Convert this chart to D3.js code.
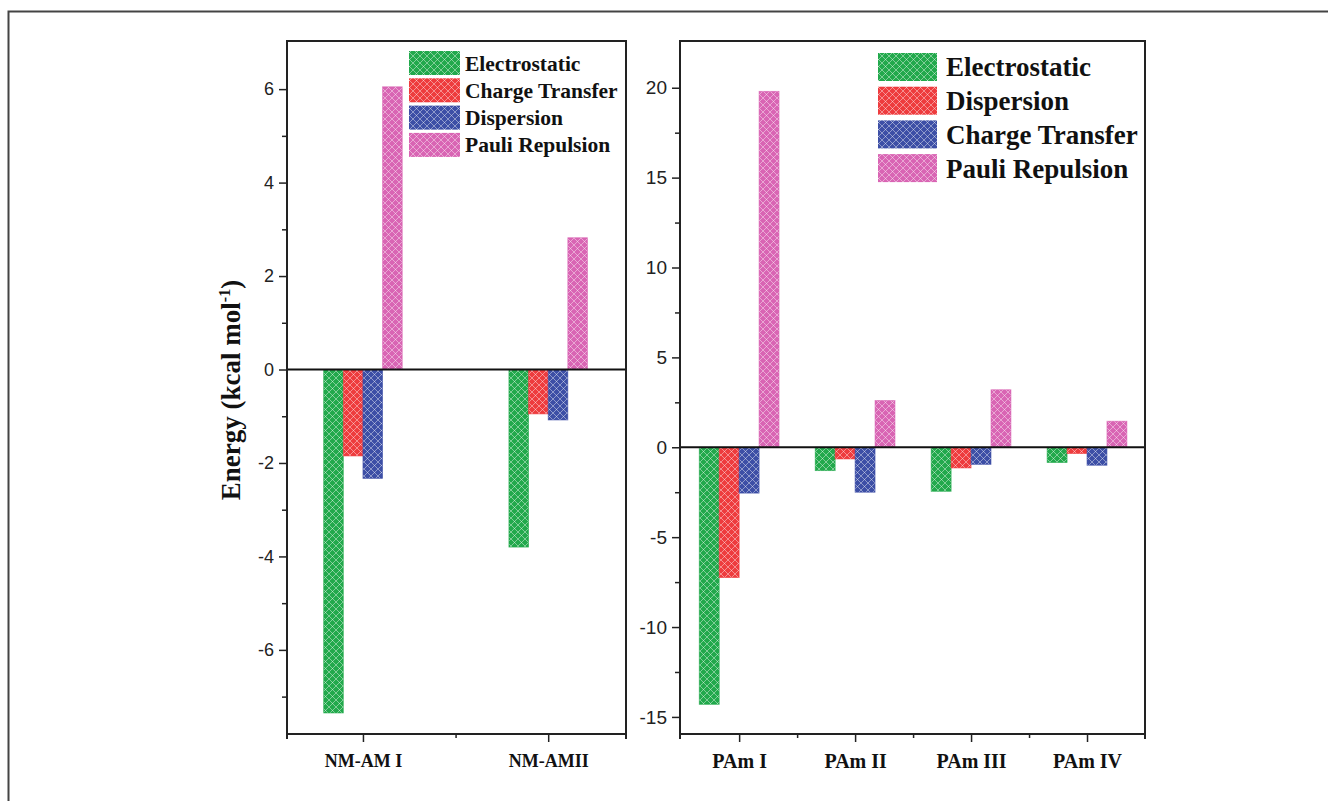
<!DOCTYPE html>
<html>
<head>
<meta charset="utf-8">
<script src="https://cdn.jsdelivr.net/npm/d3@7/dist/d3.min.js"></script>
<style>
  html, body { margin: 0; padding: 0; background: #fff; }
  svg { display: block; }
</style>
</head>
<body>
<svg id="chart" width="1328" height="801"></svg>
<script>
// Energy decomposition terms for the two complex families
const leftCategories = ["NM-AM I", "NM-AMII"];
const leftSeries = ["Electrostatic", "Charge Transfer", "Dispersion", "Pauli Repulsion"];
const leftElectrostatic = [-7.35, -3.80];
const leftChargeTransfer = [-1.85, -0.95];
const leftDispersion = [-2.33, -1.08];
const leftPauli = [6.05, 2.82];
const leftMajorTicks = [-6, -4, -2, 0, 2, 4, 6];
const leftMinorTicks = [-7, -5, -3, -1, 1, 3, 5];

const rightCategories = ["PAm I", "PAm II", "PAm III", "PAm IV"];
const rightSeries = ["Electrostatic", "Dispersion", "Charge Transfer", "Pauli Repulsion"];
const rightElectrostatic = [-14.3, -1.3, -2.45, -0.85];
const rightDispersion = [-7.25, -0.65, -1.15, -0.35];
const rightChargeTransfer = [-2.55, -2.5, -0.95, -1.0];
const rightPauli = [19.8, 2.6, 3.2, 1.45];
const rightMajorTicks = [-15, -10, -5, 0, 5, 10, 15, 20];
const rightMinorTicks = [-12.5, -7.5, -2.5, 2.5, 7.5, 12.5, 17.5];

const colors = ["#22a94c", "#ee3c3e", "#3d4fa6", "#d965b4"];

const svg = d3.select("#chart");

// hatched fills
const defs = svg.append("defs");
colors.forEach((c, i) => {
  const p = defs.append("pattern")
    .attr("id", "hatch" + i)
    .attr("patternUnits", "userSpaceOnUse")
    .attr("width", 7).attr("height", 7);
  p.append("rect").attr("width", 7).attr("height", 7).attr("fill", c);
  p.append("path")
    .attr("d", "M0,0 L7,7 M7,0 L0,7 M-1,6 L1,8 M6,-1 L8,1 M-1,1 L1,-1 M6,8 L8,6")
    .attr("stroke", "#ffffff").attr("stroke-opacity", 0.42).attr("stroke-width", 1);
});

// outer frame
svg.append("path")
  .attr("d", "M8.5,801 L8.5,11.5 L1328,11.5")
  .attr("fill", "none").attr("stroke", "#444").attr("stroke-width", 2);

const serif = "'Liberation Serif', 'Times New Roman', serif";
const sans = "'Liberation Sans', Arial, sans-serif";

function panel(cfg) {
  const g = svg.append("g");
  const x = d3.scaleLinear().domain(cfg.xDomain).range([cfg.x0, cfg.x1]);
  const y = d3.scaleLinear().domain(cfg.yDomain).range([cfg.y1, cfg.y0]);

  // bars
  cfg.values.forEach((vals, s) => {
    const off = (s - 1.5) * cfg.barW;
    g.selectAll(null).data(vals).enter().append("rect")
      .attr("x", (d, i) => x(i + 1 + off - cfg.barW / 2))
      .attr("width", x(cfg.barW) - x(0))
      .attr("y", d => y(Math.max(0, d)))
      .attr("height", d => Math.abs(y(d) - y(0)))
      .attr("fill", "url(#hatch" + s + ")")
      .attr("stroke", colors[s]).attr("stroke-opacity", 0.7).attr("stroke-width", 0.8);
  });

  // zero line
  g.append("line")
    .attr("x1", cfg.x0).attr("x2", cfg.x1)
    .attr("y1", y(0)).attr("y2", y(0))
    .attr("stroke", "#111").attr("stroke-width", 1.8);

  // y axis
  const yAxis = g.append("g").attr("transform", `translate(${cfg.x0},0)`)
    .call(d3.axisLeft(y).tickValues(cfg.major).tickSize(8).tickPadding(5)
      .tickFormat(d => String(d)));
  yAxis.select(".domain").remove();
  yAxis.selectAll("line").attr("stroke", "#222").attr("stroke-width", 1.5);
  yAxis.selectAll("text").attr("font-family", sans).attr("font-size", cfg.tickFont).attr("fill", "#222");

  const yMinor = g.append("g").attr("transform", `translate(${cfg.x0},0)`)
    .call(d3.axisLeft(y).tickValues(cfg.minor).tickSize(5).tickFormat(""));
  yMinor.select(".domain").remove();
  yMinor.selectAll("line").attr("stroke", "#222").attr("stroke-width", 1.5);

  // x axis
  const xAxis = g.append("g").attr("transform", `translate(0,${cfg.y1})`)
    .call(d3.axisBottom(x).tickValues(d3.range(1, cfg.categories.length + 1))
      .tickSize(8).tickPadding(12).tickFormat(d => cfg.categories[d - 1]));
  xAxis.select(".domain").remove();
  xAxis.selectAll("line").attr("stroke", "#222").attr("stroke-width", 1.5);
  xAxis.selectAll("text").attr("font-family", serif).attr("font-weight", "bold")
    .attr("font-size", cfg.catFont).attr("fill", "#111");

  const between = d3.range(1, cfg.categories.length).map(i => i + 0.5);
  const xMinor = g.append("g").attr("transform", `translate(0,${cfg.y1})`)
    .call(d3.axisBottom(x).tickValues(between).tickSize(4).tickFormat(""));
  xMinor.select(".domain").remove();
  xMinor.selectAll("line").attr("stroke", "#222").attr("stroke-width", 1.5);

  // frame
  g.append("rect")
    .attr("x", cfg.x0).attr("y", cfg.y0)
    .attr("width", cfg.x1 - cfg.x0).attr("height", cfg.y1 - cfg.y0)
    .attr("fill", "none").attr("stroke", "#222").attr("stroke-width", 2);
  [cfg.x0, cfg.x1].forEach(xx => {
    g.append("line").attr("x1", xx).attr("x2", xx)
      .attr("y1", cfg.y1).attr("y2", cfg.y1 + 5)
      .attr("stroke", "#222").attr("stroke-width", 2);
  });

  // legend
  const lg = g.append("g");
  cfg.series.forEach((name, s) => {
    const yy = cfg.legY + s * cfg.legStep;
    lg.append("rect")
      .attr("x", cfg.legX).attr("y", yy)
      .attr("width", cfg.legW).attr("height", cfg.legH)
      .attr("fill", "url(#hatch" + s + ")");
    lg.append("text")
      .attr("x", cfg.legX + cfg.legW + cfg.legGap).attr("y", yy + cfg.legH / 2)
      .attr("dy", "0.35em")
      .attr("font-family", serif).attr("font-weight", "bold")
      .attr("font-size", cfg.legFont).attr("fill", "#111")
      .text(name);
  });
}

panel({
  x0: 287, x1: 626, y0: 41, y1: 734,
  xDomain: [0.59, 2.42], yDomain: [-7.8, 7.03],
  barW: 0.106,
  categories: leftCategories, series: leftSeries,
  values: [leftElectrostatic, leftChargeTransfer, leftDispersion, leftPauli],
  major: leftMajorTicks, minor: leftMinorTicks,
  tickFont: 18, catFont: 18,
  legX: 409, legY: 51, legW: 51, legH: 24, legStep: 27.3, legGap: 5, legFont: 21.5
});

panel({
  x0: 680, x1: 1145, y0: 41, y1: 734,
  xDomain: [0.49, 4.5], yDomain: [-15.95, 22.6],
  barW: 0.172,
  categories: rightCategories, series: rightSeries,
  values: [rightElectrostatic, rightDispersion, rightChargeTransfer, rightPauli],
  major: rightMajorTicks, minor: rightMinorTicks,
  tickFont: 19, catFont: 20,
  legX: 878, legY: 53, legW: 59, legH: 28, legStep: 33.7, legGap: 9, legFont: 27
});

// y axis title
const title = svg.append("text")
  .attr("transform", "translate(240,390) rotate(-90)")
  .attr("text-anchor", "middle")
  .attr("font-family", serif).attr("font-weight", "bold")
  .attr("font-size", 27).attr("fill", "#111");
title.append("tspan").text("Energy (kcal mol");
title.append("tspan").attr("font-size", 16).attr("dy", -10).text("-1");
title.append("tspan").attr("dy", 10).text(")");
</script>
</body>
</html>
